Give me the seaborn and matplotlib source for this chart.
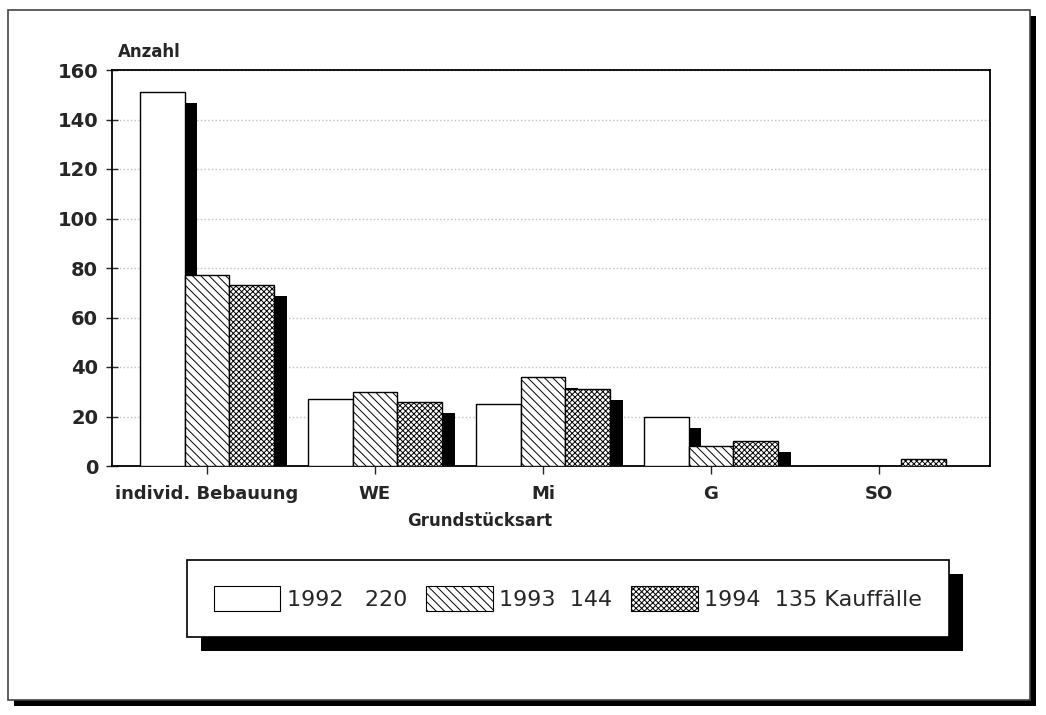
import numpy as np
import pandas as pd
import matplotlib
matplotlib.use("Agg")
import matplotlib.pyplot as plt
from matplotlib.patches import Rectangle, Patch
import seaborn as sns

# Data
categories = ["individ. Bebauung", "WE", "Mi", "G", "SO"]
years = ["1992", "1993", "1994"]
v1992 = [151, 27, 25, 20, 0]
v1993 = [77, 30, 36, 8, 0]
v1994 = [73, 26, 31, 10, 3]
legend_labels = ["1992   220", "1993  144", "1994  135 Kauffälle"]
hatches = ["", "\\\\\\\\", "xxxxxx"]

df = pd.DataFrame({
    "art": categories * 3,
    "jahr": [y for y in years for _ in categories],
    "anzahl": v1992 + v1993 + v1994,
})

sns.set_style("white")
plt.rcParams["hatch.linewidth"] = 0.7
W, H = 1046, 715
fig = plt.figure(figsize=(W / 100, H / 100), dpi=100)
ax = fig.add_axes([112 / W, 1 - 466 / H, (990 - 112) / W, (466 - 70) / H])

sns.barplot(data=df, x="art", y="anzahl", hue="jahr", palette=["white"] * 3,
            edgecolor="black", linewidth=1.0, saturation=1, width=0.8,
            legend=False, ax=ax)

# hatches and drop shadows
dx, dy = 0.075, 4.5
for cont, hatch in zip(ax.containers, hatches):
    for bar in cont:
        bar.set_hatch(hatch)
        bar.set_zorder(3)
        h = bar.get_height()
        if h - dy > 0:
            ax.add_patch(Rectangle((bar.get_x() + dx, 0), bar.get_width(), h - dy,
                                   facecolor="black", edgecolor="none", zorder=2))

ax.set_ylim(0, 160)
ax.set_xlim(-0.565, 4.66)
ax.set_yticks(range(0, 161, 20))
ax.yaxis.grid(True, linestyle=":", color="#c0c0c0", linewidth=1.0, zorder=0)
ax.set_axisbelow(True)
for s in ax.spines.values():
    s.set_visible(True)
    s.set_color("black")
    s.set_linewidth(1.3)
ax.tick_params(axis="y", direction="inout", length=8, width=1, left=True,
               labelsize=14, pad=6)
ax.tick_params(axis="x", direction="out", length=6, width=1, bottom=True,
               labelsize=13, pad=8)
for lab in ax.get_yticklabels() + ax.get_xticklabels():
    lab.set_fontweight("bold")
ax.set_xlabel("")
ax.set_ylabel("")

fig.text(118 / W, 1 - 52 / H, "Anzahl", fontsize=12, fontweight="bold",
         va="center", ha="left")
fig.text(480 / W, 1 - 521 / H, "Grundstücksart", fontsize=12,
         fontweight="bold", va="center", ha="center")

# legend
handles = [Patch(facecolor="white", edgecolor="black", hatch=h, linewidth=0.8)
           for h in hatches]
leg = fig.legend(handles, legend_labels, ncol=3, loc="center",
                 bbox_to_anchor=(176 / W, 1 - 640 / H, (960 - 176) / W, 83 / H),
                 mode="expand", frameon=True, fancybox=False, framealpha=1,
                 edgecolor="black", handlelength=3.0,
                 handleheight=1.3, handletextpad=0.3, borderpad=1.2,
                 prop={"family": ["Liberation Sans Narrow", "DejaVu Sans"], "size": 16})
leg.get_frame().set_linewidth(1.2)
leg.set_zorder(5)

fig.canvas.draw()
bb = leg.get_window_extent().transformed(fig.transFigure.inverted())
fig.patches.append(Rectangle((bb.x0 + 14 / W, bb.y0 - 14 / H), bb.width, bb.height,
                             transform=fig.transFigure, facecolor="black",
                             edgecolor="none", zorder=4))

# outer frame with shadow
fig.patches.append(Rectangle((14 / W, 1 - 706 / H), 1022 / W, 690 / H,
                             transform=fig.transFigure, facecolor="black",
                             edgecolor="none", zorder=-2))
fig.patches.append(Rectangle((8 / W, 1 - 700 / H), 1022 / W, 690 / H,
                             transform=fig.transFigure, facecolor="white",
                             edgecolor="#444444", linewidth=1.2, zorder=-1))

fig.savefig("out.png", dpi=100)
